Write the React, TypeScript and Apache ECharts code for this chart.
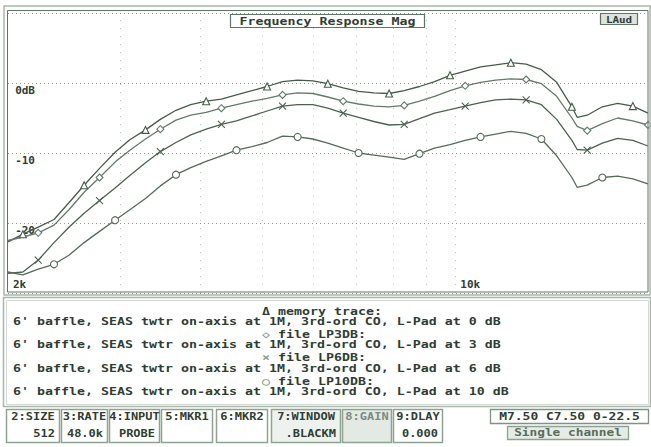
import React, { useEffect, useRef } from "react";
import * as echarts from "echarts";

// ---------- data ----------
const FREQS = [
  2000, 2110, 2230, 2360, 2490, 2630, 2780, 2940, 3100, 3280, 3460, 3660, 3860, 4080, 4310,
  4550, 4810, 5080, 5370, 5670, 5990, 6320, 6680, 7060, 7460, 7880, 8320, 8790, 9280, 9810,
  10360, 10950, 11560, 12210, 12900, 13630, 14400, 15210, 15500, 16070, 16970, 17930, 18940, 20000,
];

const MEMORY_0DB = [
  -22.7, -21.6, -20.6, -19.5, -17.1, -14.6, -12.2, -9.9, -8.1, -6.7, -5.2, -3.9, -3.1, -2.6, -2.3,
  -1.7, -1.1, -0.5, 0.2, 0.4, 0.3, -0.1, -0.7, -1.2, -1.4, -1.5, -1.1, -0.5, 0.2, 1.1,
  1.7, 2.3, 2.6, 2.9, 2.7, 1.9, 0.1, -3.4, -4.9, -4.6, -3.4, -2.9, -3.3, -4.3,
];
const LP3DB = [
  -22.5, -22.0, -21.4, -20.3, -18.1, -15.6, -13.5, -11.3, -9.6, -8.0, -6.6, -5.3, -4.6, -4.2, -3.6,
  -3.1, -2.6, -2.2, -1.7, -1.4, -1.5, -2.0, -2.6, -3.0, -3.3, -3.4, -3.2, -2.6, -1.9, -1.1,
  -0.4, 0.1, 0.4, 0.6, 0.5, -0.1, -1.9, -5.0, -6.2, -6.8, -5.8, -5.0, -5.4, -6.0,
];
const LP6DB = [
  -27.2, -27.0, -25.3, -22.8, -20.6, -18.6, -16.8, -15.0, -13.2, -11.4, -9.8, -8.5, -7.4, -6.6, -5.9,
  -5.4, -4.7, -4.0, -3.3, -3.1, -3.1, -3.6, -4.3, -4.9, -5.5, -6.0, -5.9, -5.1, -4.3, -3.8,
  -3.3, -2.8, -2.4, -2.3, -2.4, -3.1, -5.2, -8.2, -9.5, -9.6, -8.6, -7.9, -8.2, -9.0,
];
const LP10DB = [
  -27.0, -27.4, -26.6, -25.9, -24.6, -22.8, -21.2, -19.6, -18.1, -16.5, -14.7, -13.1, -12.1, -11.2, -10.4,
  -9.6, -9.1, -8.5, -7.6, -7.7, -8.0, -8.6, -9.3, -10.0, -10.3, -10.6, -10.9, -10.1, -9.3, -8.8,
  -8.2, -7.7, -7.3, -6.9, -7.2, -8.0, -10.4, -13.5, -14.9, -14.6, -13.5, -13.3, -13.7, -14.4,
];

// indices of the points that carry a trace marker
const MARKS_MEMORY = [1, 5, 9, 13, 17, 21, 25, 29, 33, 37, 42];
const MARKS_LP3DB = [2, 6, 10, 14, 18, 22, 26, 30, 34, 39, 43];
const MARKS_LP6DB = [2, 6, 10, 14, 18, 22, 26, 30, 34, 39];
const MARKS_LP10DB = [3, 7, 11, 15, 19, 23, 27, 31, 35, 40];

const Y_TICK_LABELS: Record<string, string> = { "0": "0dB", "-10": "-10", "-20": "-20" };
const X_TICK_LABELS: Record<string, string> = { "2000": "2k", "10000": "10k" };
const GRID_FREQS = [3000, 4000, 5000, 6000, 7000, 8000, 9000, 10000];

const TITLE = "Frequency Response Mag";
const MODE_TAG = "LAud";
const LEGEND_SYMBOLS = ["\u0394", "\u25C7", "\u00D7", "\u25CB"];
const LEGEND_HEADERS = ["memory trace:", "file LP3DB:", "file LP6DB:", "file LP10DB:"];
const LEGEND_LINES = [
  "6' baffle, SEAS twtr on-axis at 1M, 3rd-ord CO, L-Pad at 0 dB",
  "6' baffle, SEAS twtr on-axis at 1M, 3rd-ord CO, L-Pad at 3 dB",
  "6' baffle, SEAS twtr on-axis at 1M, 3rd-ord CO, L-Pad at 6 dB",
  "6' baffle, SEAS twtr on-axis at 1M, 3rd-ord CO, L-Pad at 10 dB",
];
const BUTTON_LABELS = ["2:SIZE", "3:RATE", "4:INPUT", "5:MKR1", "6:MKR2", "7:WINDOW", "8:GAIN", "9:DLAY"];
const BUTTON_VALUES = ["512", "48.0k", "PROBE", "", "", ".BLACKM", "", "0.000"];
const STATUS_TEXT = "M7.50 C7.50 0-22.5";
const CHANNEL_TEXT = "Single channel";

// ---------- styling ----------
const INK = "#2f3d32";
const FRAME = "#5f7563";
const LIGHT = "#a9b6ab";
const MONO = '"DejaVu Sans Mono", "Liberation Mono", monospace';
const FONT = `bold 10.5px ${MONO}`;
const SX = 1.266; // widen glyphs to ~8px per character
const BFONT = `bold 10px ${MONO}`;
const BSX = 1.2;

function txt(x: number, y: number, s: string, opts: any = {}) {
  const align = opts.align || "left";
  return {
    type: "text",
    x,
    y,
    scaleX: opts.sx ?? SX,
    silent: true,
    z: 20,
    style: {
      text: s,
      x: 0,
      y: 0,
      font: opts.font || FONT,
      fill: opts.fill || INK,
      align,
      verticalAlign: "middle",
      textAlign: align,
      textVerticalAlign: "middle",
    },
  };
}

function box(x: number, y: number, w: number, h: number, stroke: string, fill = "none", lw = 1) {
  return {
    type: "rect",
    silent: true,
    z: 10,
    shape: { x, y, width: w, height: h },
    style: { fill, stroke, lineWidth: lw },
  };
}

function buildGraphics() {
  const els: any[] = [];
  // plot frame (double)
  els.push(box(4, 6, 646, 289, LIGHT, "none", 1.5));
  els.push(box(7.5, 10.5, 640.5, 281.5, FRAME, "none", 1));
  // title and mode tag
  els.push(box(230.5, 14.5, 194, 13, FRAME, "#ffffff", 1.2));
  els.push(txt(327.5, 21.5, TITLE, { align: "center" }));
  els.push(box(600.5, 13.5, 37, 11, FRAME, "#dde4de", 1.2));
  els.push(txt(619, 19.3, MODE_TAG, { align: "center", font: `bold 9.5px ${MONO}`, sx: 1.15 }));

  // legend panel
  els.push(box(3.5, 297.5, 647, 109, LIGHT, "none", 1.5));
  els.push(box(6.5, 300.5, 642, 104, "#d3dad4", "none", 1));
  const rowY0 = 311;
  const pairPitch = 23.4;
  const inPair = 10.2;
  LEGEND_HEADERS.forEach((h, i) => {
    const yh = rowY0 + pairPitch * i;
    const yl = yh + inPair;
    els.push(txt(262, yh, LEGEND_SYMBOLS[i], { fill: i === 0 ? INK : "#8e9c90" }));
    els.push(txt(278, yh, h));
    els.push(txt(13, yl, LEGEND_LINES[i]));
  });

  // soft-key buttons
  const bx = [[6, 53], [61, 46], [109, 50], [161, 51], [216, 51], [271, 69], [342, 49], [393, 49]];
  const by = 409.5;
  const bh = 33;
  BUTTON_LABELS.forEach((lab, i) => {
    const [x, w] = bx[i];
    const fill = i === 6 ? "#e3e9e3" : i === 5 ? "#eef2ee" : "#ffffff";
    els.push(box(x + 0.5, by, w, bh, "#8ea291", fill, 1.5));
    els.push(txt(x + w / 2 + 0.5, by + 7.5, lab, {
      align: "center",
      font: BFONT,
      sx: BSX,
      fill: i === 6 ? "#7d8b7f" : INK,
    }));
    const v = BUTTON_VALUES[i];
    if (v) {
      els.push(txt(x + w - 4, by + 24.5, v, { align: "right", font: BFONT, sx: BSX }));
    }
  });

  // status boxes
  els.push(box(490.5, 409.5, 158, 14, "#7f9383", "#ffffff", 1.3));
  els.push(txt(569.5, 416.5, STATUS_TEXT, { align: "center", font: BFONT, sx: 1.3 }));
  els.push(box(507.5, 426.5, 121, 13, "#8ea291", "#e5ebe5", 1.3));
  els.push(txt(568, 433, CHANNEL_TEXT, { align: "center", font: BFONT, sx: 1.28, fill: "#5b6b5e" }));
  return els;
}

const SERIES_DEFS = [
  { name: "memory trace", values: MEMORY_0DB, marks: MARKS_MEMORY, symbol: "triangle", color: "#465c4a", size: 7 },
  { name: "LP3DB", values: LP3DB, marks: MARKS_LP3DB, symbol: "diamond", color: "#65796a", size: 7 },
  { name: "LP6DB", values: LP6DB, marks: MARKS_LP6DB, symbol: "path://M0,0L10,10M10,0L0,10", color: "#4c614f", size: 7 },
  { name: "LP10DB", values: LP10DB, marks: MARKS_LP10DB, symbol: "circle", color: "#566b59", size: 7 },
];

export default function App() {
  const ref = useRef<HTMLDivElement>(null);

  useEffect(() => {
    if (!ref.current) return;
    const chart = echarts.init(ref.current, null, { renderer: "svg" });

    const labelFont = {
      fontFamily: MONO,
      fontWeight: "bold" as const,
      fontSize: 11,
      color: INK,
    };

    const series: any[] = SERIES_DEFS.map((d, si) => ({
      type: "line",
      name: d.name,
      data: FREQS.map((f, i) => [f, d.values[i]]),
      showSymbol: true,
      showAllSymbol: true,
      symbol: d.symbol,
      symbolSize: (_v: any, p: any) => (d.marks.includes(p.dataIndex) ? d.size : 0),
      itemStyle: { color: "#ffffff", borderColor: d.color, borderWidth: 1.1 },
      lineStyle: { color: d.color, width: 1.3 },
      emphasis: { disabled: true },
      silent: true,
      z: 3,
      ...(si === 0
        ? {
            markLine: {
              silent: true,
              symbol: ["none", "none"],
              label: { show: false },
              lineStyle: { type: [1, 7], color: "#b9c5bb", width: 1 },
              data: GRID_FREQS.map((f) => ({ xAxis: f })),
              z: 1,
            },
          }
        : {}),
    }));

    chart.setOption({
      animation: false,
      backgroundColor: "#ffffff",
      grid: { left: 8, right: 3, top: 13, bottom: 154, containLabel: false },
      xAxis: {
        type: "log",
        logBase: 10,
        min: 2000,
        max: 20000,
        axisLine: { show: false },
        axisTick: { show: false },
        splitLine: { show: false },
        axisLabel: {
          ...labelFont,
          inside: true,
          margin: 3,
          showMinLabel: true,
          showMaxLabel: false,
          align: "left",
          verticalAlign: "bottom",
          padding: [0, 0, 0, 5],
          formatter: (v: number) => X_TICK_LABELS[String(Math.round(v))] || "",
        },
      },
      yAxis: {
        type: "value",
        min: -30,
        max: 10,
        interval: 10,
        axisLine: { show: false },
        axisTick: { show: false },
        splitLine: { show: true, lineStyle: { type: [1, 3], color: "#8c9e8f", width: 1 } },
        axisLabel: {
          ...labelFont,
          inside: true,
          margin: 27,
          align: "right",
          verticalAlign: "top",
          padding: [2, 0, 0, 0],
          formatter: (v: number) => Y_TICK_LABELS[String(Math.round(v))] || "",
        },
      },
      series,
      graphic: { elements: buildGraphics() },
    });

    return () => chart.dispose();
  }, []);

  return (
    <div
      ref={ref}
      style={{ position: "fixed", left: 0, top: 0, width: 651, height: 447, background: "#fff" }}
    />
  );
}
